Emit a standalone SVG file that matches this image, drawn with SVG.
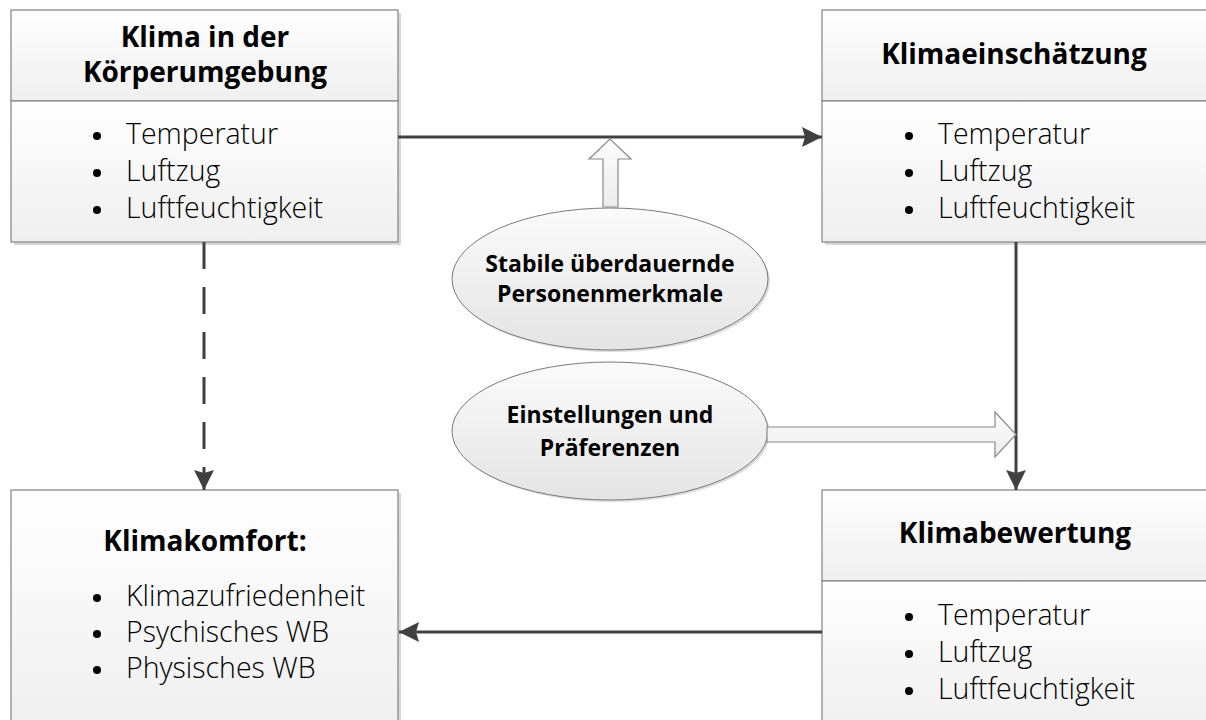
<svg xmlns="http://www.w3.org/2000/svg" width="1206" height="720" viewBox="0 0 1206 720">
<defs>
<linearGradient id="gBox" x1="0" y1="0" x2="0" y2="1"><stop offset="0" stop-color="#ffffff"/><stop offset="1" stop-color="#efefef"/></linearGradient>
<linearGradient id="gEll" x1="0" y1="0" x2="0" y2="1"><stop offset="0" stop-color="#fbfbfb"/><stop offset="1" stop-color="#e4e4e4"/></linearGradient>
<linearGradient id="gArr" x1="0" y1="0" x2="0" y2="1"><stop offset="0" stop-color="#fdfdfd"/><stop offset="1" stop-color="#ececec"/></linearGradient>
<marker id="ah" viewBox="0 0 20 20" refX="20" refY="10" markerWidth="20" markerHeight="20" markerUnits="userSpaceOnUse" orient="auto">
<path d="M0,0 L20,10 L0,20 L3,10 Z" fill="#404040"/>
</marker>
</defs>
<style>
.box{fill:url(#gBox);stroke:#8c8c8c;stroke-width:1.3}
.sec{fill:url(#gBox);stroke:#8c8c8c;stroke-width:1.3}
.shadow{fill:#d8d8d8}
.title{font-family:"Open Sans","Liberation Sans",sans-serif;font-weight:bold;font-size:28px;fill:#000;text-anchor:middle}
.item{font-family:"Open Sans","Liberation Sans",sans-serif;font-weight:300;font-size:28.5px;fill:#000}
.bul{fill:#000}
.ell{fill:url(#gEll);stroke:#7a7a7a;stroke-width:1}
.etext{font-family:"Open Sans","Liberation Sans",sans-serif;font-weight:bold;font-size:23px;fill:#000;text-anchor:middle}
.con{stroke:#404040;stroke-width:3;fill:none}
.blk{fill:url(#gArr);stroke:#8a8a8a;stroke-width:1.2}
</style>

<g id="node-klima-koerper">
<rect class="shadow" x="14" y="13" width="387" height="232"/>
<rect class="sec" x="11" y="10" width="387" height="91"/>
<rect class="sec" x="11" y="101" width="387" height="141"/>
<text class="title" x="205" y="47">Klima in der</text>
<text class="title" x="205" y="82">Körperumgebung</text>
<circle class="bul" cx="97" cy="136" r="4"/>
<circle class="bul" cx="97" cy="173" r="4"/>
<circle class="bul" cx="97" cy="210" r="4"/>
<text class="item" x="126" y="144">Temperatur</text>
<text class="item" x="126" y="181">Luftzug</text>
<text class="item" x="126" y="218">Luftfeuchtigkeit</text>
</g>

<g id="node-klimaeinschaetzung">
<rect class="shadow" x="825" y="13" width="387" height="232"/>
<rect class="sec" x="822" y="10" width="387" height="91"/>
<rect class="sec" x="822" y="101" width="387" height="141"/>
<text class="title" x="1014" y="64">Klimaeinschätzung</text>
<circle class="bul" cx="909" cy="136" r="4"/>
<circle class="bul" cx="909" cy="173" r="4"/>
<circle class="bul" cx="909" cy="210" r="4"/>
<text class="item" x="938" y="144">Temperatur</text>
<text class="item" x="938" y="181">Luftzug</text>
<text class="item" x="938" y="218">Luftfeuchtigkeit</text>
</g>

<g id="node-klimakomfort">
<rect class="shadow" x="14" y="493" width="387" height="240"/>
<rect class="box" x="11" y="490" width="387" height="240"/>
<text class="title" x="205" y="551">Klimakomfort:</text>
<circle class="bul" cx="97" cy="598" r="4"/>
<circle class="bul" cx="97" cy="634" r="4"/>
<circle class="bul" cx="97" cy="670" r="4"/>
<text class="item" x="126" y="606">Klimazufriedenheit</text>
<text class="item" x="126" y="642">Psychisches WB</text>
<text class="item" x="126" y="678">Physisches WB</text>
</g>

<g id="node-klimabewertung">
<rect class="shadow" x="825" y="493" width="387" height="240"/>
<rect class="sec" x="822" y="490" width="387" height="91"/>
<rect class="sec" x="822" y="581" width="387" height="149"/>
<text class="title" x="1015" y="543">Klimabewertung</text>
<circle class="bul" cx="909" cy="617" r="4"/>
<circle class="bul" cx="909" cy="654" r="4"/>
<circle class="bul" cx="909" cy="691" r="4"/>
<text class="item" x="938" y="625">Temperatur</text>
<text class="item" x="938" y="662">Luftzug</text>
<text class="item" x="938" y="699">Luftfeuchtigkeit</text>
</g>

<g id="node-personenmerkmale">
<ellipse cx="612" cy="281" rx="158" ry="71" fill="#dcdcdc"/>
<ellipse class="ell" cx="610" cy="279" rx="158" ry="71"/>
<text class="etext" x="610" y="272">Stabile überdauernde</text>
<text class="etext" x="610" y="302">Personenmerkmale</text>
</g>

<g id="node-einstellungen">
<ellipse cx="612" cy="433" rx="158" ry="69" fill="#dcdcdc"/>
<ellipse class="ell" cx="610" cy="431" rx="158" ry="69"/>
<text class="etext" x="610" y="423">Einstellungen und</text>
<text class="etext" x="610" y="456">Präferenzen</text>
</g>

<g id="connectors">
<line class="con" x1="398" y1="137" x2="822" y2="137" marker-end="url(#ah)"/>
<line class="con" x1="1016" y1="242" x2="1016" y2="490" marker-end="url(#ah)"/>
<line class="con" x1="822" y1="632" x2="399" y2="632" marker-end="url(#ah)"/>
<line class="con" x1="204" y1="242" x2="204" y2="470" stroke-dasharray="27 18"/>
<line class="con" x1="204" y1="470" x2="204" y2="490" marker-end="url(#ah)"/>
<path class="blk" d="M603,207 L603,159 L589,159 L610,139 L631,159 L618,159 L618,207 Z"/>
<path class="blk" d="M767,427 L995,427 L995,412 L1016,434.5 L995,457 L995,442 L767,442 Z"/>
</g>
</svg>
